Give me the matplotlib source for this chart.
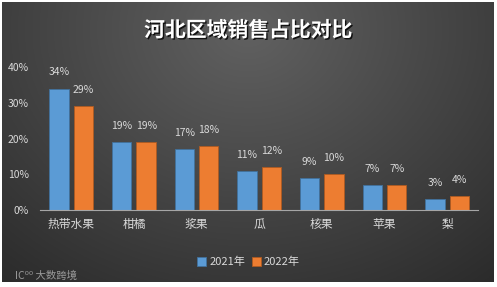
import matplotlib
matplotlib.use('Agg')
import matplotlib.pyplot as plt
import matplotlib.patheffects as pe
import numpy as np

plt.rcParams['font.family'] = ['Noto Sans CJK SC', 'DejaVu Sans']

# data
categories = ['热带水果', '柑橘', '浆果', '瓜', '核果', '苹果', '梨']
sales_2021 = [34, 19, 17, 11, 9, 7, 3]
sales_2022 = [29, 19, 18, 12, 10, 7, 4]
series_names = ['2021年', '2022年']

blue = '#5b9bd5'
orange = '#ed7d31'
txt = '#d9d9d9'

fig = plt.figure(figsize=(4.97, 2.87), dpi=100)
fig.patch.set_facecolor('white')

# dark gradient background
bg = fig.add_axes([0.004, 0.017, 0.988, 0.976])
yy, xx = np.mgrid[0:1:200j, 0:1:300j]
r = np.sqrt(((xx - 0.5) / 0.75) ** 2 + ((yy - 0.1) / 1.1) ** 2)
shade = np.clip(0.38 - 0.2 * r, 0.16, 0.38)
bg.imshow(np.dstack([shade] * 3), aspect='auto', extent=[0, 1, 1, 0])
bg.set_axis_off()

ax = fig.add_axes([0.0805, 0.268, 0.882, 0.498])
ax.patch.set_alpha(0)

x = np.arange(len(categories))
w = 0.31
off = 0.195
b1 = ax.bar(x - off, np.array(sales_2021) / 100, w, color=blue, edgecolor='#41719c', linewidth=0.6, label=series_names[0])
b2 = ax.bar(x + off, np.array(sales_2022) / 100, w, color=orange, edgecolor='#ae5a21', linewidth=0.6, label=series_names[1])

for bars, vals in ((b1, sales_2021), (b2, sales_2022)):
    for bar, v in zip(bars, vals):
        ax.annotate(f'{v}%', xy=(bar.get_x() + bar.get_width() / 2, bar.get_height()),
                    xytext=(0, 8), textcoords='offset points', ha='center', va='bottom',
                    fontsize=7.5, color=txt)

ax.set_xlim(-0.5, len(categories) - 0.5)
ax.set_ylim(0, 0.4)
ax.set_yticks([0, 0.1, 0.2, 0.3, 0.4])
ax.set_yticklabels(['0%', '10%', '20%', '30%', '40%'])
ax.set_xticks(x)
ax.set_xticklabels(categories)
ax.tick_params(axis='y', length=0, labelsize=7.5, labelcolor=txt, pad=8)
ax.tick_params(axis='x', length=0, labelsize=8.5, labelcolor=txt, pad=6)
for s in ('top', 'right', 'left'):
    ax.spines[s].set_visible(False)
ax.spines['bottom'].set_color('#a6a6a6')
ax.spines['bottom'].set_linewidth(0.8)

leg = fig.legend(loc='center', bbox_to_anchor=(0.5, 0.087), ncol=2, frameon=False,
                 fontsize=8, handlelength=0.8, handleheight=0.8, handletextpad=0.3,
                 columnspacing=0.6)
for t in leg.get_texts():
    t.set_color(txt)

fig.text(0.5, 0.895, '河北区域销售占比对比', ha='center', va='center', fontsize=15,
         fontweight='bold', color='white',
         path_effects=[pe.withSimplePatchShadow(offset=(1, -1), shadow_rgbFace='black', alpha=0.8)])

fig.text(0.03, 0.04, 'IC⁰⁰ 大数跨境', ha='left', va='center', fontsize=7.5, color='#9a9a9a')

fig.savefig('out.png', dpi=100)
